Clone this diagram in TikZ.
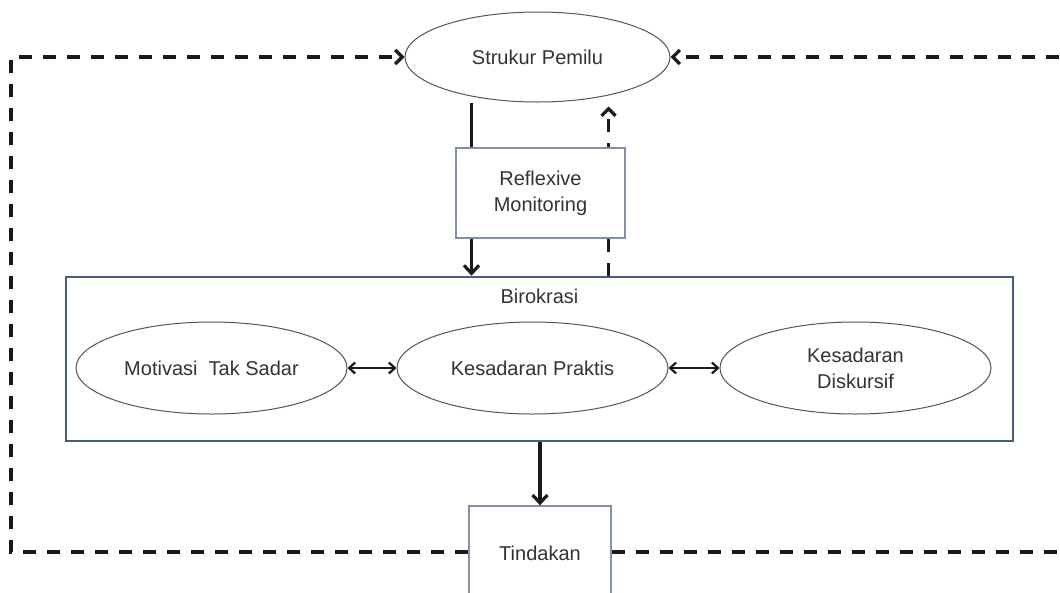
\documentclass[tikz,border=0pt]{standalone}
\usepackage{fontspec}
\setmainfont{Liberation Sans}
\usetikzlibrary{shapes.geometric,arrows.meta,calc}
\definecolor{txt}{HTML}{333333}
\definecolor{ln}{HTML}{1A1A1A}
\definecolor{boxline}{HTML}{8090AA}
\definecolor{birline}{HTML}{4A5C80}
\definecolor{ellline}{HTML}{555555}
\tikzset{
  ell/.style={ellipse, draw=ellline, line width=1pt, fill=white, inner sep=0pt, text=txt, align=center, font=\fontsize{20}{24}\selectfont},
  rbox/.style={rectangle, draw=boxline, line width=1.4pt, fill=white, inner sep=0pt, text=txt, align=center, font=\fontsize{20}{24}\selectfont},
  bigbox/.style={rectangle, draw=birline, line width=2.6pt, inner sep=0pt},
  solidarr/.style={draw=ln, line width=3.2pt, -{Straight Barb[length=8pt,width=15pt]}},
  dasharr/.style={draw=ln, line width=3.3pt, dash pattern=on 13pt off 11pt},
  dblarr/.style={draw=ln, line width=2.2pt, {Straight Barb[length=6pt,width=11pt]}-{Straight Barb[length=6pt,width=11pt]}},
}
\begin{document}
\begin{tikzpicture}[x=1pt,y=-1pt]
\useasboundingbox (0,0) rectangle (1060,592);
\clip (0,0) rectangle (1060,592);
\fill[white] (0,0) rectangle (1060,592);

% Birokrasi frame
\node[bigbox, minimum width=947pt, minimum height=164pt] (bir) at (539.5,359) {};
\node[text=txt, font=\fontsize{20}{24}\selectfont, inner sep=0pt] (birlab) at (539.5,296) {Birokrasi};

% top ellipse
\node[ell, minimum width=265pt, minimum height=90pt] (sp) at (537.5,57) {Strukur Pemilu};

% coordinates for the loop
\coordinate (lt) at (11,57);
\coordinate (lb) at (11,552);
\coordinate (rt) at (1080,57);
\coordinate (rb) at (1080,552);
\coordinate (upend) at ($(sp.south)+(71,4)$);
\coordinate (downstart) at ($(sp.south)+(-66,0)$);

% vertical links through reflexive monitoring
\draw[solidarr] (downstart) -- (downstart |- bir.north);
\draw[dasharr, -{Straight Barb[length=7pt,width=14pt]}] (upend |- bir.north) -- (upend);

% Reflexive monitoring box
\node[rbox, minimum width=169pt, minimum height=90pt] (rm) at (540.5,193) {Reflexive\\[2pt]Monitoring};

% inner ellipses
\node[ell, minimum width=271pt, minimum height=92pt] (mts) at (211.5,368) {Motivasi\ \ Tak Sadar};
\node[ell, minimum width=271pt, minimum height=92pt] (kp) at (532.5,368) {Kesadaran Praktis};
\node[ell, minimum width=271pt, minimum height=92pt] (kd) at (855.5,368) {Kesadaran\\[2pt]Diskursif};
\draw[dblarr] (mts.east) -- (kp.west);
\draw[dblarr] (kp.east) -- (kd.west);

% Tindakan box
\node[rbox, minimum width=142pt, minimum height=94pt] (tin) at (540,553) {Tindakan};
\draw[solidarr] (tin.north |- bir.south) -- (tin.north);

% dashed feedback loop
\draw[dasharr, -{Straight Barb[length=7pt,width=14pt]}] (tin.west |- lb) -- (lb) -- (lt) -- (sp.west);
\draw[dasharr, -{Straight Barb[length=7pt,width=14pt]}] (tin.east |- rb) -- (rb) -- (rt) -- (sp.east);
\end{tikzpicture}
\end{document}
